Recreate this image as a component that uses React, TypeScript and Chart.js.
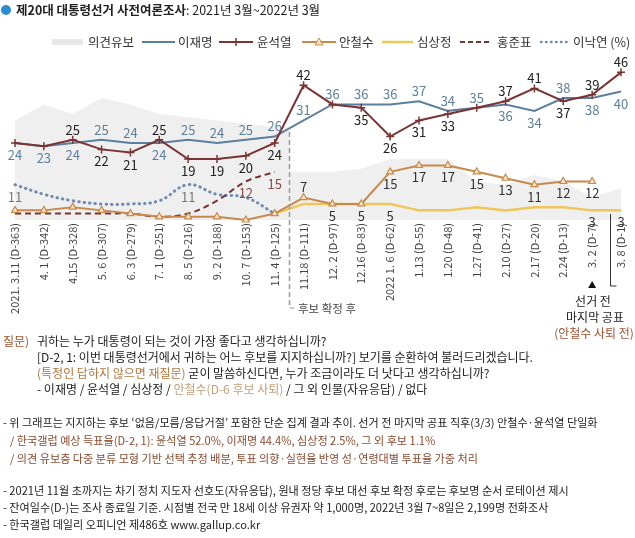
import React, { useEffect, useRef } from 'react';
import { Chart, registerables } from 'chart.js';
Chart.register(...registerables);

const W = 635;
const H = 538;
const FONT = '"Noto Sans CJK KR", "Noto Sans", sans-serif';
const TXT = '#222222';

// ---- data ----
const dateLabels = [
  '2021. 3.11 (D-363)', '4. 1 (D-342)', '4.15 (D-328)', '5. 6 (D-307)', '6. 3 (D-279)',
  '7. 1 (D-251)', '8. 5 (D-216)', '9. 2 (D-188)', '10. 7 (D-153)', '11. 4 (D-125)',
  '11.18 (D-111)', '12. 2 (D-97)', '12.16 (D-83)', '2022 1. 6 (D-62)', '1.13 (D-55)',
  '1.20 (D-48)', '1.27 (D-41)', '2.10 (D-27)', '2.17 (D-20)', '2.24 (D-13)',
  '3. 2 (D-7)', '3. 8 (D-1)',
];
const leeJM = [24, 23, 24, 25, 24, 24, 25, 24, 25, 26, 31, 36, 36, 36, 37, 34, 35, 36, 34, 38, 38, 40];
const yoonSY = [24, 23, 25, 22, 21, 25, 19, 19, 20, 24, 42, 36, 35, 26, 31, 33, 35, 37, 41, 37, 39, 46];
const ahnCS = [3, 3, 4, 3, 2, 1, 1, 1, 0, 2, 7, 5, 5, 15, 17, 17, 15, 13, 11, 12, 12, null];
const simSJ = [null, null, null, null, null, null, null, null, null, 2, 5, 5, 5, 5, 3, 3, 4, 3, 4, 4, 3, 3];
const hongJP = [2, 2, 2, 2, 2, 1, 2, 6, 12, 15, null, null, null, null, null, null, null, null, null, null, null, null];
const leeNY = [11, 8, 6, 5, 5, 6, 11, 8, 7, 2, null, null, null, null, null, null, null, null, null, null, null, null];
const undecided = [31, 36, 33, 38, 36, 33, 32, 31, 30, 29, 15, 15, 16, 19, 19, 19, 12, 11, 14, 12, 7, 10];
const nominationIndex = 10; // first survey after major-party nominations

// label placement (a = above, b = below, '' = none)
const leeLabelPos = ['b', 'b', 'b', 'a', 'a', 'b', 'a', 'a', 'a', 'a', 'a', 'a', 'a', 'a', 'a', 'a', 'a', 'b', 'b', 'a', 'b', 'b'];
const yoonLabelPos = ['', '', 'a', 'b', 'b', 'a', 'b', 'b', 'b', 'b', 'a', '', 'b', 'b', 'b', 'b', '', 'a', 'a', 'b', 'a', 'a'];
const ahnLabelIdx = { 10: 'a', 13: 'b', 14: 'b', 15: 'b', 16: 'b', 17: 'b', 18: 'b', 19: 'b', 20: 'b' };
const simLabelIdx = { 11: 'b', 12: 'b', 13: 'b', 20: 'b', 21: 'b' };
const hongLabelIdx = { 8: 'b', 9: 'b' };
const leeNYLabelIdx = { 0: 'b', 6: 'b' };

const C = {
  lee: '#5d7f9e',
  yoon: '#7a3434',
  ahn: '#c8894a',
  ahnFill: '#fbe6c8',
  sim: '#eec65a',
  hong: '#7a3434',
  leeNY: '#6f8db3',
  area: '#efefef',
};

const pts = (arr: (number | null)[]) =>
  arr.map((v, i) => (v == null ? null : { x: i, y: v })).filter((p) => p !== null) as { x: number; y: number }[];

function areaParts() {
  const split = nominationIndex - 0.5;
  const before = undecided.slice(0, nominationIndex).map((v, i) => ({ x: i, y: v }));
  before.push({ x: split, y: undecided[nominationIndex - 1] });
  const after = [{ x: split, y: undecided[nominationIndex] }].concat(
    undecided.slice(nominationIndex).map((v, i) => ({ x: i + nominationIndex, y: v }))
  );
  return { before, after };
}

const overlay = {
  id: 'overlay',
  afterDatasetsDraw(chart: any) {
    const { ctx, scales } = chart;
    const xs = scales.x;
    const ys = scales.y;
    ctx.save();
    // nomination divider
    const dx = Math.round(xs.getPixelForValue(nominationIndex - 0.5)) + 0.5;
    ctx.strokeStyle = '#9a9a9a';
    ctx.lineWidth = 1.5;
    ctx.setLineDash([5, 3]);
    ctx.beginPath();
    ctx.moveTo(dx, 132);
    ctx.lineTo(dx, 308);
    ctx.stroke();
    ctx.setLineDash([]);
    ctx.lineWidth = 1;
    ctx.beginPath();
    ctx.moveTo(dx, 308);
    ctx.lineTo(dx + 5, 308);
    ctx.stroke();
    ctx.restore();

    // data labels
    ctx.save();
    ctx.font = `13px ${FONT}`;
    ctx.textAlign = 'center';
    ctx.textBaseline = 'middle';
    const put = (v: number | null, i: number, pos: string, color: string) => {
      if (v == null || !pos) return;
      const x = xs.getPixelForValue(i);
      const y = ys.getPixelForValue(v) + (pos === 'a' ? -10 : 12);
      ctx.fillStyle = color;
      ctx.fillText(String(v), x, y);
    };
    leeJM.forEach((v, i) => put(v, i, leeLabelPos[i], C.lee));
    yoonSY.forEach((v, i) => put(v, i, yoonLabelPos[i], TXT));
    Object.entries(ahnLabelIdx).forEach(([k, p]) => put(ahnCS[+k], +k, p, '#333'));
    Object.entries(simLabelIdx).forEach(([k, p]) => put(simSJ[+k], +k, p, '#333'));
    Object.entries(hongLabelIdx).forEach(([k, p]) => put(hongJP[+k], +k, p, '#8b4a4a'));
    Object.entries(leeNYLabelIdx).forEach(([k, p]) => put(leeNY[+k], +k, p, '#777'));
    ctx.restore();
  },
  afterDraw(chart: any) {
    const { ctx, scales } = chart;
    const xs = scales.x;
    ctx.save();
    // x labels, rotated
    ctx.font = `11px ${FONT}`;
    ctx.fillStyle = '#444';
    ctx.textAlign = 'right';
    ctx.textBaseline = 'middle';
    dateLabels.forEach((lab, i) => {
      const x = xs.getPixelForValue(i);
      ctx.save();
      ctx.translate(x, 223);
      ctx.rotate(-Math.PI / 2);
      ctx.fillText(lab, 0, 0);
      ctx.restore();
    });

    // last-published marker
    const x32 = xs.getPixelForValue(20);
    ctx.fillStyle = '#111';
    ctx.beginPath();
    ctx.moveTo(x32, 281);
    ctx.lineTo(x32 + 4, 288);
    ctx.lineTo(x32 - 4, 288);
    ctx.closePath();
    ctx.fill();
    // bracket near final survey
    const bx = Math.round((xs.getPixelForValue(20) + xs.getPixelForValue(21)) / 2 + 3) + 0.5;
    ctx.strokeStyle = '#333';
    ctx.lineWidth = 1;
    ctx.beginPath();
    ctx.moveTo(bx, 214);
    ctx.lineTo(bx, 286);
    ctx.lineTo(bx + 6, 286);
    ctx.stroke();

    ctx.textAlign = 'center';
    ctx.textBaseline = 'middle';
    ctx.font = `12px ${FONT}`;
    ctx.fillStyle = '#222';
    ctx.fillText('선거 전', 593, 301);
    ctx.fillText('마지막 공표', 595, 317);
    ctx.fillStyle = '#a0522d';
    ctx.fillText('(안철수 사퇴 전)', 594, 333);

    ctx.textAlign = 'left';
    ctx.font = `11.5px ${FONT}`;
    ctx.fillStyle = '#444';
    ctx.fillText('후보 확정 후', 298, 309);

    // title
    ctx.fillStyle = '#2b8ccf';
    ctx.beginPath();
    ctx.arc(6, 10, 5, 0, Math.PI * 2);
    ctx.fill();
    ctx.textBaseline = 'middle';
    ctx.font = `bold 12.5px ${FONT}`;
    ctx.fillStyle = '#222';
    const t1 = '제20대 대통령선거 사전여론조사';
    ctx.fillText(t1, 16, 10);
    const w1 = ctx.measureText(t1).width;
    ctx.font = `12.5px ${FONT}`;
    ctx.fillText(': 2021년 3월~2022년 3월', 16 + w1, 10);

    // legend
    const ly = 42;
    ctx.font = `12.5px ${FONT}`;
    ctx.fillStyle = '#333';
    const seg = (x0: number, x1: number, color: string, width: number, dash: number[] = [], cap: CanvasLineCap = 'butt') => {
      ctx.save();
      ctx.strokeStyle = color;
      ctx.lineWidth = width;
      ctx.setLineDash(dash);
      ctx.lineCap = cap;
      ctx.beginPath();
      ctx.moveTo(x0, ly);
      ctx.lineTo(x1, ly);
      ctx.stroke();
      ctx.restore();
    };
    ctx.fillStyle = '#e8e8e8';
    ctx.fillRect(52, ly - 3, 31, 6);
    seg(142, 175, C.lee, 2);
    seg(219, 253, C.yoon, 2);
    ctx.save();
    ctx.strokeStyle = C.yoon;
    ctx.lineWidth = 1.5;
    ctx.beginPath();
    ctx.moveTo(236, ly - 4);
    ctx.lineTo(236, ly + 4);
    ctx.stroke();
    ctx.restore();
    seg(302, 336, C.ahn, 2);
    ctx.save();
    ctx.fillStyle = C.ahnFill;
    ctx.strokeStyle = C.ahn;
    ctx.lineWidth = 1;
    ctx.beginPath();
    ctx.moveTo(319, ly - 4);
    ctx.lineTo(323, ly + 3);
    ctx.lineTo(315, ly + 3);
    ctx.closePath();
    ctx.fill();
    ctx.stroke();
    ctx.restore();
    seg(382, 413, C.sim, 2.5);
    seg(460, 491, C.hong, 2, [5, 3]);
    seg(541, 569, C.leeNY, 2.5, [0.5, 4.5], 'round');
    ctx.fillStyle = '#333';
    ctx.textAlign = 'left';
    ctx.fillText('의견유보', 88, ly);
    ctx.fillText('이재명', 178, ly);
    ctx.fillText('윤석열', 257, ly);
    ctx.fillText('안철수', 339, ly);
    ctx.fillText('심상정', 417, ly);
    ctx.fillText('홍준표', 497, ly);
    ctx.fillText('이낙연 (%)', 573, ly);

    // notes
    const lines: { x: number; y: number; size: number; segs: [string, string][] }[] = [
      { x: 3, y: 341, size: 12, segs: [['질문)', '#a0522d']] },
      { x: 37, y: 341, size: 12, segs: [['귀하는 누가 대통령이 되는 것이 가장 좋다고 생각하십니까?', TXT]] },
      { x: 37, y: 357, size: 12, segs: [['[D-2, 1: 이번 대통령선거에서 귀하는 어느 후보를 지지하십니까?] 보기를 순환하여 불러드리겠습니다.', TXT]] },
      { x: 37, y: 373, size: 12, segs: [['(특정인 답하지 않으면 재질문)', '#b5773f'], [' 굳이 말씀하신다면, 누가 조금이라도 더 낫다고 생각하십니까?', TXT]] },
      { x: 37, y: 389, size: 12, segs: [['- 이재명 / 윤석열 / 심상정 / ', TXT], ['안철수(D-6 후보 사퇴)', '#c4a07a'], [' / 그 외 인물(자유응답) / 없다', TXT]] },
      { x: 3, y: 423, size: 11.1, segs: [['- 위 그래프는 지지하는 후보 ‘없음/모름/응답거절’ 포함한 단순 집계 결과 추이. 선거 전 마지막 공표 직후(3/3) 안철수·윤석열 단일화', TXT]] },
      { x: 10, y: 441, size: 11.1, segs: [['/ 한국갤럽 예상 득표율(D-2, 1): 윤석열 52.0%, 이재명 44.4%, 심상정 2.5%, 그 외 후보 1.1%', '#8b4a2f']] },
      { x: 10, y: 459, size: 11.1, segs: [['/ 의견 유보층 다중 분류 모형 기반 선택 추정 배분, 투표 의향·실현율 반영 성·연령대별 투표율 가중 처리', '#8b4a2f']] },
      { x: 3, y: 491, size: 11.1, segs: [['- 2021년 11월 초까지는 차기 정치 지도자 선호도(자유응답), 원내 정당 후보 대선 후보 확정 후로는 후보명 순서 로테이션 제시', TXT]] },
      { x: 3, y: 508, size: 11.1, segs: [['- 잔여일수(D-)는 조사 종료일 기준. 시점별 전국 만 18세 이상 유권자 약 1,000명, 2022년 3월 7~8일은 2,199명 전화조사', TXT]] },
      { x: 3, y: 525, size: 11.1, segs: [['- 한국갤럽 데일리 오피니언 제486호 www.gallup.co.kr', TXT]] },
    ];
    ctx.textAlign = 'left';
    ctx.textBaseline = 'middle';
    lines.forEach((ln) => {
      ctx.font = `${ln.size}px ${FONT}`;
      let x = ln.x;
      ln.segs.forEach(([t, col]) => {
        ctx.fillStyle = col;
        ctx.fillText(t, x, ln.y);
        x += ctx.measureText(t).width;
      });
    });
    ctx.restore();
  },
};

export default function App() {
  const ref = useRef<HTMLCanvasElement>(null);
  useEffect(() => {
    document.body.style.margin = '0';
    const canvas = ref.current!;
    const { before, after } = areaParts();
    const chart = new Chart(canvas, {
      type: 'line',
      data: {
        datasets: [
          {
            label: '윤석열', data: pts(yoonSY), borderColor: C.yoon, borderWidth: 2,
            pointStyle: 'cross', pointRadius: 4, pointBorderColor: C.yoon, pointBorderWidth: 1.5, clip: false,
          } as any,
          { label: '이재명', data: pts(leeJM), borderColor: C.lee, borderWidth: 2, pointRadius: 0, clip: false } as any,
          {
            label: '안철수', data: pts(ahnCS), borderColor: C.ahn, borderWidth: 2, pointStyle: 'triangle',
            pointRadius: 4, pointBackgroundColor: C.ahnFill, pointBorderColor: C.ahn, pointBorderWidth: 1.2, clip: false,
          } as any,
          { label: '심상정', data: pts(simSJ), borderColor: C.sim, borderWidth: 2.5, pointRadius: 0, clip: false } as any,
          {
            label: '홍준표', data: pts(hongJP), borderColor: C.hong, borderWidth: 2, borderDash: [6, 4],
            pointRadius: 0, tension: 0.35, clip: false,
          } as any,
          {
            label: '이낙연', data: pts(leeNY), borderColor: C.leeNY, borderWidth: 3, borderDash: [0.5, 5],
            borderCapStyle: 'round', pointRadius: 0, tension: 0.4, clip: false,
          } as any,
          { label: '의견유보2', data: after, backgroundColor: C.area, borderWidth: 0, fill: 'origin', pointRadius: 0 } as any,
          { label: '의견유보', data: before, backgroundColor: C.area, borderWidth: 0, fill: 'origin', pointRadius: 0 } as any,
        ],
      },
      options: {
        responsive: false,
        animation: false,
        devicePixelRatio: 1,
        layout: { padding: { left: 15, right: 14, top: 59.5, bottom: 318 } },
        scales: {
          x: { type: 'linear', min: 0, max: 21, display: false },
          y: { min: 0, max: 50, display: false },
        },
        plugins: { legend: { display: false }, tooltip: { enabled: false } },
        events: [],
      },
      plugins: [overlay],
    });
    return () => chart.destroy();
  }, []);
  return (
    <div style={{ position: 'relative', width: W, height: H }}>
      <canvas ref={ref} width={W} height={H} style={{ display: 'block', width: W, height: H }} />
    </div>
  );
}
